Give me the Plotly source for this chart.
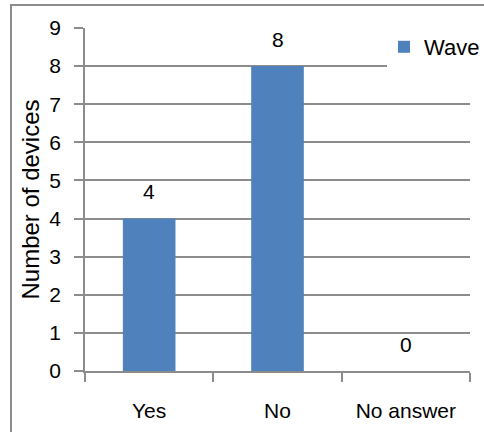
import plotly.graph_objects as go

categories = ["Yes", "No", "No answer"]
wave_values = [4, 8, 0]
series_name = "Wave"
y_ticks = [0, 1, 2, 3, 4, 5, 6, 7, 8, 9]

FONT = "Liberation Sans, Arial, sans-serif"
GRID = "#8c8c8c"
BAR = "#4F81BD"

fig = go.Figure()
fig.add_trace(go.Bar(x=categories, y=wave_values, name=series_name,
                     marker=dict(color=BAR, line=dict(width=0))))

for c, v in zip(categories, wave_values):
    fig.add_annotation(x=c, y=v, text=str(v), showarrow=False,
                       yanchor="middle", yshift=27,
                       font=dict(family=FONT, size=21, color="#000"))

fig.update_layout(
    width=484, height=432,
    margin=dict(l=85, r=14, t=28, b=61, pad=0, autoexpand=False),
    paper_bgcolor="white", plot_bgcolor="white",
    bargap=0.59,
    showlegend=True,
    legend=dict(x=(384 - 85) / 385, xanchor="left", y=(371 - 47) / 343, yanchor="middle",
                bgcolor="rgba(0,0,0,0)", borderwidth=0,
                font=dict(family=FONT, size=22, color="#000")),
    font=dict(family=FONT, color="#000"),
)

fig.update_yaxes(range=[0, 9], tickvals=y_ticks, showgrid=True, gridcolor=GRID, gridwidth=1.5,
                 showline=True, linecolor=GRID, linewidth=1.5,
                 ticks="outside", ticklen=9, tickcolor=GRID, tickwidth=1.5,
                 ticklabelstandoff=9, automargin=False,
                 tickfont=dict(family=FONT, size=21, color="#000"),
                 zeroline=False,
                 title=dict(text="Number of devices", standoff=3,
                            font=dict(family=FONT, size=24, color="#000")))
fig.update_xaxes(showline=True, linecolor=GRID, linewidth=1.5,
                 ticks="outside", tickson="boundaries", ticklen=9, tickcolor=GRID, tickwidth=1.5,
                 ticklabelstandoff=20, automargin=False,
                 tickfont=dict(family=FONT, size=21, color="#000"))

# white patch behind legend hiding the top gridlines
fig.add_shape(type="rect", xref="paper", yref="paper",
              x0=(387 - 85) / 385, x1=1.05, y0=(371 - 82) / 343, y1=(371 - 22) / 343,
              fillcolor="white", line=dict(width=0), layer="above")
# outer chart border
fig.add_shape(type="rect", xref="paper", yref="paper",
              x0=(11 - 85) / 385, x1=(520 - 85) / 385, y0=(371 - 460) / 343, y1=(371 - 5) / 343,
              fillcolor="rgba(0,0,0,0)", line=dict(color=GRID, width=2), layer="above")

fig.write_html("out.html", config={"displayModeBar": False},
               post_script="document.body.style.margin='0px';document.body.style.padding='0px';")
